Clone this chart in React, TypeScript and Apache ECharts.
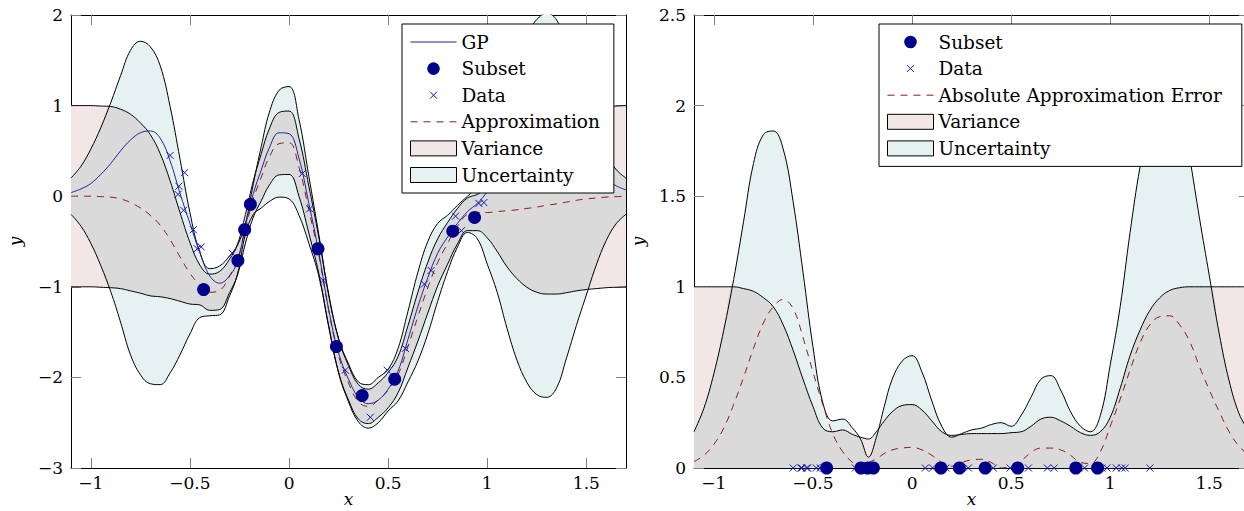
import React, { useEffect, useRef } from "react";
import * as echarts from "echarts";

// ---------- data ----------
const XS = [
  -1.1, -1.05, -1.0, -0.95, -0.9, -0.85, -0.8, -0.75, -0.7, -0.65, -0.6, -0.55, -0.5, -0.45, -0.4, -0.35, -0.3,
  -0.26, -0.22, -0.18, -0.14, -0.1,
  -0.05, 0, 0.05, 0.1, 0.15, 0.2, 0.25, 0.3, 0.35, 0.4, 0.45, 0.5, 0.55, 0.6, 0.65, 0.7, 0.75, 0.8, 0.85, 0.9,
  0.95, 1.0, 1.05, 1.1, 1.15, 1.2, 1.25, 1.3, 1.35, 1.4, 1.45, 1.5, 1.55, 1.6, 1.65, 1.7,
];

const APPROX = [
  0, 0, 0, -0.005, -0.01, -0.03, -0.07, -0.13, -0.21, -0.32, -0.48, -0.67, -0.85, -0.98, -1.06, -1.04, -0.88,
  -0.7, -0.36, -0.03, 0.21, 0.43,
  0.58, 0.59, 0.32, -0.15, -0.65, -1.26, -1.76, -2.06, -2.27, -2.32, -2.25, -2.14, -1.97, -1.66, -1.33, -1.01, -0.73, -0.52, -0.33, -0.2,
  -0.18, -0.18, -0.17, -0.16, -0.15, -0.135, -0.12, -0.1, -0.085, -0.065, -0.045, -0.03, -0.02, -0.01, -0.005, 0,
];

const GP = [
  0.04, 0.08, 0.14, 0.24, 0.36, 0.5, 0.62, 0.7, 0.72, 0.64, 0.39, 0.03, -0.3, -0.62, -0.88, -0.96, -0.88,
  -0.72, -0.33, 0.03, 0.29, 0.53,
  0.7, 0.69, 0.42, -0.08, -0.62, -1.25, -1.73, -2.02, -2.22, -2.29, -2.25, -2.13, -1.93, -1.58, -1.22, -0.9, -0.63, -0.45, -0.3, -0.17,
  -0.08, 0.05, 0.21, 0.38, 0.54, 0.655, 0.715, 0.74, 0.7, 0.635, 0.515, 0.4, 0.29, 0.19, 0.115, 0.07,
];

const VARIANCE = [
  1.0, 1.0, 1.0, 1.0, 1.0, 0.99, 0.975, 0.94, 0.89, 0.79, 0.65, 0.49, 0.34, 0.22, 0.2, 0.21, 0.185,
  0.17, 0.16, 0.2, 0.26, 0.31,
  0.345, 0.35, 0.32, 0.26, 0.2, 0.18, 0.185, 0.19, 0.19, 0.19, 0.19, 0.195, 0.2, 0.23, 0.27, 0.28, 0.26, 0.23, 0.195, 0.18,
  0.2, 0.28, 0.44, 0.62, 0.76, 0.87, 0.94, 0.98, 0.995, 1.0, 1.0, 1.0, 1.0, 1.0, 1.0, 1.0,
];

const UNCERTAINTY = [
  0.2, 0.33, 0.52, 0.76, 1.04, 1.36, 1.68, 1.84, 1.86, 1.76, 1.47, 1.08, 0.67, 0.36, 0.26, 0.27, 0.22,
  0.16, 0.06, 0.17, 0.34, 0.49,
  0.59, 0.62, 0.53, 0.37, 0.23, 0.17, 0.19, 0.21, 0.22, 0.24, 0.25, 0.23, 0.29, 0.39, 0.49, 0.51, 0.43, 0.31, 0.23, 0.2,
  0.29, 0.57, 0.89, 1.3, 1.66, 1.92, 2.07, 2.12, 2.03, 1.72, 1.38, 1.06, 0.74, 0.48, 0.3, 0.2,
];

const ABS_ERROR = [
  0.035, 0.07, 0.13, 0.22, 0.35, 0.5, 0.66, 0.8, 0.89, 0.93, 0.88, 0.72, 0.53, 0.35, 0.19, 0.09, 0.03,
  0.0, 0.03, 0.05, 0.08, 0.1,
  0.11, 0.114, 0.1, 0.07, 0.03, 0.01, 0.03, 0.045, 0.048, 0.03, 0.0, 0.01, 0.04, 0.085, 0.11, 0.11, 0.1, 0.07, 0.03, 0.025,
  0.09, 0.23, 0.38, 0.54, 0.69, 0.79, 0.835, 0.84, 0.79, 0.7, 0.56, 0.43, 0.31, 0.2, 0.12, 0.07,
];

const SUBSET_X = [-0.431, -0.258, -0.224, -0.195, 0.146, 0.239, 0.369, 0.533, 0.826, 0.936];
const SUBSET_Y = [-1.03, -0.71, -0.37, -0.09, -0.58, -1.66, -2.2, -2.02, -0.386, -0.235];

const DATA_X = [
  -0.6, -0.527, -0.556, -0.56, -0.532, -0.483, -0.463, -0.443, -0.286, 0.067, 0.104, 0.172, 0.284, 0.41, 0.495,
  0.587, 0.683, 0.717, 0.84, 0.87, 0.958, 0.983, 1.03, 1.058, 1.075, 1.2,
];
const DATA_Y = [
  0.45, 0.26, 0.11, 0.02, -0.155, -0.37, -0.58, -0.56, -0.63, 0.25, -0.14, -0.93, -1.92, -2.44, -1.92,
  -1.68, -0.97, -0.82, -0.22, -0.38, -0.08, -0.07, 0.13, 0.22, 0.3, 0.62,
];

const X_TICKS = [-1, -0.5, 0, 0.5, 1, 1.5];
const Y_TICKS_LEFT = [-3, -2, -1, 0, 1, 2];
const Y_TICKS_RIGHT = [0, 0.5, 1, 1.5, 2, 2.5];

const LEFT_LEGEND = ["GP", "Subset", "Data", "Approximation", "Variance", "Uncertainty"];
const RIGHT_LEGEND = ["Subset", "Data", "Absolute Approximation Error", "Variance", "Uncertainty"];

// ---------- styles ----------
const FONT = "'DejaVu Serif', serif";
const PINK = "#f2e6e6";
const CYAN = "#e6f2f2";
const GREY = "#dadada";
const NAVY = "#00008b";
const GP_BLUE = "#22229c";
const DATA_BLUE = "#1414b4";
const RED = "#8b1a1a";
const SMOOTH = 0.4;
const DASH = [7, 6];

const CROSS = "path://M0 0L10 10M10 0L0 10";
const LINE_ICON = "path://M0 7.5L46 7.5M23 0L23 0M23 15L23 15";
const DOT_ICON = "path://M16.7 7.5A6.3 6.3 0 1 1 29.3 7.5A6.3 6.3 0 1 1 16.7 7.5ZM0 0L0 0M46 15L46 15";
const CROSS_ICON = "path://M19.5 4L26.5 11M26.5 4L19.5 11M0 0L0 0M46 15L46 15";

const fmt = (v: number) => (v < 0 ? "\u2212" + String(-v) : String(v));

const pairs = (ys: number[]) => XS.map((x, i) => [x, ys[i]]);
// value first, x second: the stacked dimension must be the y value
const stackPairs = (ys: number[]) => XS.map((x, i) => [ys[i], x]);

function lineS(name: string, ys: number[], axis: number, color: string, extra: any = {}) {
  return {
    type: "line",
    name,
    data: pairs(ys),
    xAxisIndex: axis,
    yAxisIndex: axis,
    smooth: SMOOTH,
    symbol: "none",
    silent: true,
    emphasis: { disabled: true },
    lineStyle: { color, width: 1 },
    z: 3,
    ...extra,
  };
}

function band(name: string, stackId: string, lower: number[], upper: number[], color: string) {
  const common = {
    type: "line",
    stack: stackId,
    stackStrategy: "all",
    encode: { x: 1, y: 0 },
    xAxisIndex: 0,
    yAxisIndex: 0,
    smooth: SMOOTH,
    symbol: "none",
    silent: true,
    emphasis: { disabled: true },
    lineStyle: { width: 0, opacity: 0 },
    z: 2,
  };
  return [
    { ...common, name: stackId + "-base", data: stackPairs(lower) },
    {
      ...common,
      name,
      data: stackPairs(upper.map((u, i) => u - lower[i])),
      areaStyle: { color, opacity: 1 },
    },
  ];
}

function area(name: string, ys: number[], color: string) {
  return {
    type: "line",
    name,
    data: pairs(ys),
    xAxisIndex: 2,
    yAxisIndex: 2,
    smooth: SMOOTH,
    symbol: "none",
    silent: true,
    emphasis: { disabled: true },
    lineStyle: { width: 0, opacity: 0 },
    areaStyle: { color, opacity: 1 },
    z: 2,
  };
}

function scatterS(name: string, xs: number[], ys: number[], axis: number, kind: "data" | "subset") {
  return {
    type: "scatter",
    name,
    data: xs.map((x, i) => [x, ys[i]]),
    xAxisIndex: axis,
    yAxisIndex: axis,
    clip: false,
    silent: true,
    emphasis: { disabled: true },
    z: 3,
    ...(kind === "data"
      ? {
          symbol: CROSS,
          symbolSize: 7,
          itemStyle: { color: "transparent", borderColor: DATA_BLUE, borderWidth: 1, opacity: 1 },
        }
      : { symbol: "circle", symbolSize: 13, itemStyle: { color: NAVY, borderWidth: 0, opacity: 1 } }),
  };
}

const legendIcon: Record<string, any> = {
  GP: { icon: LINE_ICON, itemStyle: { color: "transparent", borderColor: GP_BLUE, borderWidth: 1, opacity: 1 } },
  Subset: { icon: DOT_ICON, itemStyle: { color: NAVY, borderWidth: 0, opacity: 1 } },
  Data: { icon: CROSS_ICON, itemStyle: { color: "transparent", borderColor: DATA_BLUE, borderWidth: 1, opacity: 1 } },
  Approximation: {
    icon: LINE_ICON,
    itemStyle: { color: "transparent", borderColor: RED, borderWidth: 1, borderType: DASH, opacity: 1 },
  },
  "Absolute Approximation Error": {
    icon: LINE_ICON,
    itemStyle: { color: "transparent", borderColor: RED, borderWidth: 1, borderType: DASH, opacity: 1 },
  },
  Variance: { icon: "rect", itemStyle: { color: PINK, borderColor: "#000", borderWidth: 1, opacity: 1 } },
  Uncertainty: { icon: "rect", itemStyle: { color: CYAN, borderColor: "#000", borderWidth: 1, opacity: 1 } },
};

function legend(names: string[], left: number, padRight: number) {
  return {
    left,
    top: 24,
    orient: "vertical",
    align: "left",
    selectedMode: false,
    itemWidth: 46,
    itemHeight: 15,
    itemGap: 6.6,
    backgroundColor: "#fff",
    borderColor: "#000",
    borderWidth: 1,
    borderRadius: 0,
    padding: [8, padRight, 8, 8],
    z: 10,
    textStyle: { fontFamily: FONT, fontSize: 18.5, color: "#000", lineHeight: 20 },
    data: names.map((n) => ({ name: n, ...legendIcon[n] })),
  };
}

const nameStyle = { fontFamily: FONT, fontStyle: "italic", fontSize: 17, color: "#000" };
const tickStyle = { color: "#808080", width: 1 };

function xAxis(grid: number, position: "top" | "bottom") {
  const main = position === "bottom";
  return {
    type: "value",
    gridIndex: grid,
    position,
    min: -1.1,
    max: 1.7,
    axisLine: { show: true, onZero: false, lineStyle: { color: "#000", width: 1 } },
    axisTick: { show: true, inside: true, length: 10, customValues: X_TICKS, lineStyle: tickStyle },
    axisLabel: {
      show: main,
      customValues: X_TICKS,
      formatter: fmt,
      fontFamily: FONT,
      fontSize: 17,
      color: "#000",
      margin: 6,
    },
    splitLine: { show: false },
    name: main ? "x" : "",
    nameLocation: "middle",
    nameGap: 22,
    nameMoveOverlap: false,
    nameTextStyle: nameStyle,
  };
}

function yAxis(grid: number, position: "left" | "right", min: number, max: number, interval: number) {
  const main = position === "left";
  return {
    type: "value",
    gridIndex: grid,
    position,
    min,
    max,
    interval,
    axisLine: { show: true, onZero: false, lineStyle: { color: "#000", width: 1 } },
    axisTick: { show: true, inside: true, length: 10, lineStyle: tickStyle },
    axisLabel: { show: main, formatter: fmt, fontFamily: FONT, fontSize: 17, color: "#000", margin: 8 },
    splitLine: { show: false },
    name: main ? "y" : "",
    nameLocation: "middle",
    nameGap: 48,
    nameRotate: 90,
    nameMoveOverlap: false,
    nameTextStyle: nameStyle,
  };
}

function buildOption() {
  const varLo = APPROX.map((a, i) => a - VARIANCE[i]);
  const varHi = APPROX.map((a, i) => a + VARIANCE[i]);
  const uncLo = APPROX.map((a, i) => a - UNCERTAINTY[i]);
  const uncHi = APPROX.map((a, i) => a + UNCERTAINTY[i]);
  const both = VARIANCE.map((v, i) => Math.min(v, UNCERTAINTY[i]));
  const bothLo = APPROX.map((a, i) => a - both[i]);
  const bothHi = APPROX.map((a, i) => a + both[i]);

  const series: any[] = [
    // left plot
    ...band("Variance", "pinkL", varLo, varHi, PINK),
    ...band("Uncertainty", "cyanL", uncLo, uncHi, CYAN),
    ...band("overlapL", "greyL", bothLo, bothHi, GREY),
    lineS("varHi", varHi, 0, "#000"),
    lineS("varLo", varLo, 0, "#000"),
    lineS("uncHi", uncHi, 0, "#000"),
    lineS("uncLo", uncLo, 0, "#000"),
    lineS("Approximation", APPROX, 0, RED, { lineStyle: { color: RED, width: 1, type: DASH } }),
    lineS("GP", GP, 0, GP_BLUE),
    scatterS("Data", DATA_X, DATA_Y, 0, "data"),
    scatterS("Subset", SUBSET_X, SUBSET_Y, 0, "subset"),
    // right plot
    area("Variance", VARIANCE, PINK),
    area("Uncertainty", UNCERTAINTY, CYAN),
    area("overlapR", both, GREY),
    lineS("varLine", VARIANCE, 2, "#000"),
    lineS("uncLine", UNCERTAINTY, 2, "#000"),
    lineS("Absolute Approximation Error", ABS_ERROR, 2, RED, { lineStyle: { color: RED, width: 1, type: DASH } }),
    scatterS("Data", DATA_X, DATA_X.map(() => 0), 2, "data"),
    scatterS("Subset", SUBSET_X, SUBSET_X.map(() => 0), 2, "subset"),
  ];

  return {
    animation: false,
    backgroundColor: "#fff",
    textStyle: { fontFamily: FONT },
    grid: [
      { left: 71, top: 15, width: 555, height: 453, outerBoundsMode: "none" },
      { left: 694, top: 15, width: 555, height: 453, outerBoundsMode: "none" },
    ],
    xAxis: [xAxis(0, "bottom"), xAxis(0, "top"), xAxis(1, "bottom"), xAxis(1, "top")],
    yAxis: [
      yAxis(0, "left", Y_TICKS_LEFT[0], Y_TICKS_LEFT[Y_TICKS_LEFT.length - 1], 1),
      yAxis(0, "right", Y_TICKS_LEFT[0], Y_TICKS_LEFT[Y_TICKS_LEFT.length - 1], 1),
      yAxis(1, "left", Y_TICKS_RIGHT[0], Y_TICKS_RIGHT[Y_TICKS_RIGHT.length - 1], 0.5),
      yAxis(1, "right", Y_TICKS_RIGHT[0], Y_TICKS_RIGHT[Y_TICKS_RIGHT.length - 1], 0.5),
    ],
    legend: [legend(LEFT_LEGEND, 402, 14), legend(RIGHT_LEGEND, 879, 20)],
    series,
  };
}

export default function App() {
  const ref = useRef<HTMLDivElement>(null);
  useEffect(() => {
    if (!ref.current) return;
    const chart = echarts.init(ref.current, null, { renderer: "svg" });
    chart.setOption(buildOption() as any);
    return () => chart.dispose();
  }, []);
  return (
    <div
      ref={ref}
      style={{ position: "absolute", left: 0, top: 0, width: 1244, height: 511, background: "#fff", overflow: "hidden" }}
    />
  );
}
